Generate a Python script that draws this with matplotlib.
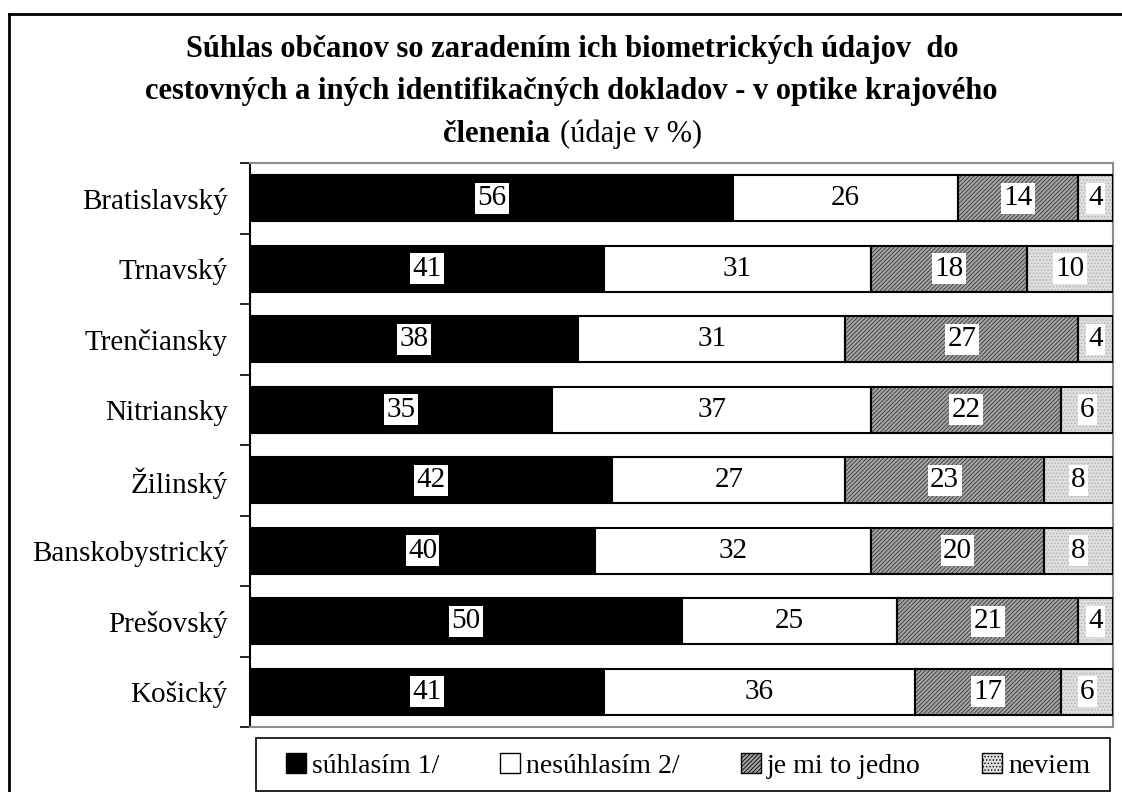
import numpy as np
import matplotlib
matplotlib.use("Agg")
import matplotlib.pyplot as plt
from matplotlib.patches import Patch, Rectangle
from matplotlib.lines import Line2D

# --- DATA ---
regions = ["Bratislavský", "Trnavský", "Trenčiansky", "Nitriansky",
           "Žilinský", "Banskobystrický", "Prešovský", "Košický"]
suhlasim = [56, 41, 38, 35, 42, 40, 50, 41]
nesuhlasim = [26, 31, 31, 37, 27, 32, 25, 36]
jedno = [14, 18, 27, 22, 23, 20, 21, 17]
neviem = [4, 10, 4, 6, 8, 8, 4, 6]

series_names = ["súhlasím 1/", "nesúhlasím 2/", "je mi to jedno", "neviem"]

title_lines = ["Súhlas občanov so zaradením ich biometrických údajov  do",
               "cestovných a iných identifikačných dokladov - v optike krajového"]

# --- STYLE ---
plt.rcParams["font.family"] = ["Liberation Serif", "DejaVu Serif"]
plt.rcParams["hatch.linewidth"] = 0.6

W, H = 1122, 792

# face colour, hatch, hatch colour
styles = [
    ("black", None, None),
    ("white", None, None),
    ("#a4a4a4", "////////", "#383838"),
    ("#dedede", ".....", "#b0b0b0"),
]

fig = plt.figure(figsize=(W / 100, H / 100), dpi=100)
ax = fig.add_axes([250 / W, 1 - 727 / H, 863 / W, 564 / H])

y = np.arange(len(regions))
left = np.zeros(len(regions))
bar_h = 0.65

for vals, (fc, hatch, hc), name in zip([suhlasim, nesuhlasim, jedno, neviem], styles, series_names):
    vals = np.array(vals, dtype=float)
    if hatch:
        # hatch drawn in its own colour, black outline drawn on top
        ax.barh(y, vals, left=left, height=bar_h, color=fc, hatch=hatch,
                edgecolor=hc, linewidth=0, zorder=2)
        ax.barh(y, vals, left=left, height=bar_h, fill=False,
                edgecolor="black", linewidth=1.5, zorder=3)
    else:
        ax.barh(y, vals, left=left, height=bar_h, color=fc,
                edgecolor="black", linewidth=1.5, zorder=3)
    for yi, l, v in zip(y, left, vals):
        ax.text(l + v / 2, yi, f"{int(v)}", ha="center", va="center",
                fontsize=21, color="black", zorder=5,
                bbox=dict(boxstyle="square,pad=0.08", fc="white", ec="none"))
    left += vals

ax.set_xlim(0, 100)
ax.set_ylim(len(regions) - 0.5, -0.5)
ax.set_xticks([])
ax.set_yticks(y)
ax.set_yticklabels(regions, fontsize=21)
ax.tick_params(axis="y", which="major", length=0, pad=16)
ax.set_yticks(np.arange(len(regions) + 1) - 0.5, minor=True)
ax.tick_params(axis="y", which="minor", length=7, width=1.2, color="black")

for side in ["top", "right", "bottom"]:
    ax.spines[side].set_color("#8c8c8c")
    ax.spines[side].set_linewidth(1.5)
ax.spines["left"].set_color("black")
ax.spines["left"].set_linewidth(1.5)

# --- TITLE ---
fig.text(572 / W, 1 - 50 / H, title_lines[0], ha="center", va="center",
         fontsize=22, fontweight="bold")
fig.text(571 / W, 1 - 92 / H, title_lines[1], ha="center", va="center",
         fontsize=22, fontweight="bold")
fig.text(550 / W, 1 - 134 / H, "členenia", ha="right", va="center",
         fontsize=22, fontweight="bold")
fig.text(560 / W, 1 - 134 / H, "(údaje v %)", ha="left", va="center",
         fontsize=22)

# --- LEGEND ---
handles = []
for (fc, hatch, hc), name in zip(styles, series_names):
    handles.append(Patch(facecolor=fc, edgecolor="black", hatch=hatch, label=name))
leg = fig.legend(handles=handles, loc="center", ncol=4,
                 bbox_to_anchor=(688 / W, 1 - 766 / H),
                 fontsize=20, frameon=False,
                 handlelength=0.72, handleheight=0.72,
                 handletextpad=0.22, columnspacing=2.2, borderpad=0)
fig.add_artist(Rectangle((256 / W, 1 - 791 / H), 854 / W, 53 / H,
                         transform=fig.transFigure, fill=False,
                         edgecolor="black", linewidth=1.2))

# --- OUTER BORDER (left and top only) ---
fig.add_artist(Line2D([9 / W, 9 / W], [0, 1 - 14 / H], color="black", lw=2))
fig.add_artist(Line2D([9 / W, 1], [1 - 14 / H, 1 - 14 / H], color="black", lw=2))

fig.savefig("out.png", dpi=100)
